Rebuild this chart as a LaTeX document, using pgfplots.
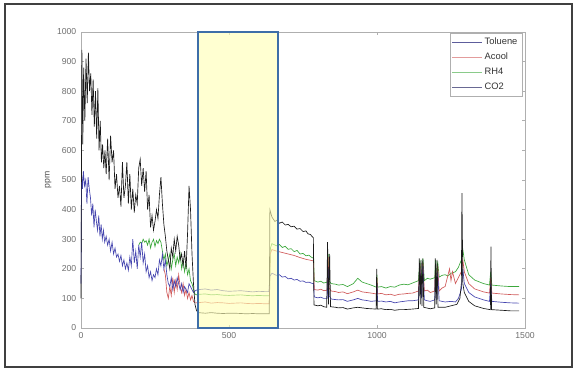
\documentclass[border=0pt]{standalone}
\usepackage{pgfplots}
\pgfplotsset{compat=1.18}
\usepackage{fontspec}
\setmainfont{Liberation Sans}
\definecolor{cblue}{RGB}{70,70,175}
\definecolor{cred}{RGB}{208,90,90}
\definecolor{cgreen}{RGB}{60,168,60}
\definecolor{cblack}{RGB}{26,26,26}
\definecolor{ryellow}{RGB}{255,255,180}
\definecolor{rblue}{RGB}{62,110,168}
\definecolor{axgray}{RGB}{175,175,175}
\definecolor{txgray}{RGB}{110,110,110}
\begin{document}
\begin{tikzpicture}
\useasboundingbox (0,0) rectangle (430.5pt,276.75pt);
\draw[color=black!75, line width=0.8pt] (3.75pt,1.5pt) rectangle (429pt,273.75pt);
\begin{axis}[
  at={(60.75pt,30.75pt)}, anchor=south west,
  scale only axis, width=333pt, height=222pt,
  xmin=0, xmax=1500, ymin=0, ymax=1000,
  xtick={0,500,1000,1500}, ytick={0,100,...,1000},
  tick align=inside, tick pos=both, major tick length=2.5pt,
  axis line style={axgray, line width=0.6pt},
  tick style={axgray, line width=0.5pt},
  ticklabel style={font=\fontsize{6.5}{7}\selectfont, text=txgray},
  /pgf/number format/assume math mode=true,
  /pgf/number format/1000 sep={},
  ylabel={ppm},
  ylabel style={at={(axis description cs:-0.074,0.5)}, anchor=center, font=\fontsize{6.5}{7}\selectfont, text=black!70},
  clip=false,
  legend style={at={(0.994,0.997)}, anchor=north east, draw=axgray, font=\fontsize{7}{7.5}\selectfont, row sep=0.8pt, inner sep=1.5pt, text=black!80},
  legend cell align=left,
  legend image code/.code={\draw[#1] (0pt,0pt) -- (22pt,0pt);},
]
% RH4 (green)
\addplot[cgreen, line width=0.5pt, forget plot] coordinates {
(195,280)(200,290)(205,285)(210,300)(215,290)(220,295)(225,280)(230,300)(235,270)(240,290)(245,300)(250,275)(255,295)(260,285)(265,300)(270,290)(275,260)(280,230)(285,250)(290,210)(295,230)(300,250)(305,200)(310,230)(315,250)(320,210)(325,240)(330,220)(335,250)(340,200)(345,230)(350,190)(355,220)(360,180)(365,200)(370,160)(375,150)(380,130)(385,115)(390,112)
(400,114)(420,115)(440,112)(460,113)(480,111)(500,110)(520,111)(540,112)(560,110)(580,109)(600,110)(620,109)(637,109)(640,270)(645,285)(660,278)(670,282)(680,272)(690,276)(700,266)(710,268)(720,258)(730,262)(740,250)(750,252)(760,244)(770,246)(780,238)(786,236)(788,160)(800,155)(810,158)(820,152)(832,155)(835,250)(838,160)(845,150)(860,148)(870,145)(885,147)(900,140)(920,150)(935,168)(950,155)(965,150)(980,145)(998,138)(1000,180)(1002,138)(1015,140)(1030,135)(1045,140)(1060,138)(1075,145)(1090,148)(1105,146)(1120,152)(1140,160)(1145,230)(1150,165)(1155,235)(1160,160)(1170,168)(1180,165)(1195,170)(1198,230)(1202,170)(1205,225)(1210,172)(1220,178)(1230,180)(1240,176)(1250,185)(1265,190)(1275,205)(1285,230)(1290,265)(1295,230)(1310,180)(1330,162)(1360,150)(1380,145)(1384,190)(1388,145)(1420,142)(1450,140)(1480,140)
};
% Acool (red)
\addplot[cred, line width=0.5pt, forget plot] coordinates {
(280,200)(285,180)(290,120)(295,100)(300,140)(305,110)(310,170)(315,120)(320,160)(325,130)(330,180)(335,140)(340,120)(345,150)(350,110)(355,130)(360,100)(365,120)(370,95)(375,110)(380,90)(385,85)(390,85)
(400,86)(420,88)(440,84)(460,86)(480,85)(500,83)(520,84)(540,85)(560,83)(580,82)(600,83)(620,82)(636,82)(639,250)(645,265)(660,260)(680,255)(700,250)(720,245)(740,238)(760,232)(780,228)(786,226)(788,130)(800,128)(810,131)(820,126)(832,128)(835,240)(838,135)(845,125)(860,123)(870,120)(885,122)(900,116)(920,122)(935,128)(950,122)(965,120)(980,118)(998,115)(1000,170)(1002,115)(1015,117)(1030,112)(1045,114)(1060,110)(1075,114)(1090,115)(1105,117)(1120,118)(1140,125)(1145,215)(1150,130)(1155,220)(1160,125)(1170,128)(1180,120)(1195,125)(1198,215)(1202,125)(1205,210)(1210,125)(1220,135)(1230,140)(1245,200)(1250,160)(1255,190)(1265,150)(1275,170)(1285,190)(1290,230)(1295,190)(1310,150)(1330,132)(1360,122)(1380,118)(1384,170)(1388,118)(1420,115)(1450,113)(1480,112)
};
% Toluene (blue)
\addplot[cblue, line width=0.5pt, forget plot] coordinates {
(0,150)(2,520)(5,470)(8,530)(12,480)(16,500)(20,420)(24,510)(28,470)(32,440)(36,380)(40,420)(44,340)(48,400)(52,360)(56,330)(60,380)(64,310)(68,350)(72,300)(76,330)(80,290)(85,310)(90,280)(95,300)(100,260)(105,290)(110,250)(115,270)(120,240)(125,250)(130,225)(135,245)(140,210)(145,230)(150,200)(155,220)(160,195)(165,240)(170,210)(175,300)(180,220)(185,260)(190,200)(195,280)(200,240)(205,290)(210,220)(215,250)(220,190)(225,210)(230,170)(235,190)(240,160)(245,180)(250,170)(255,200)(260,180)(265,230)(270,210)(275,250)(280,200)(285,230)(290,180)(295,150)(300,140)(305,170)(310,130)(315,160)(320,140)(325,170)(330,150)(335,130)(340,150)(345,120)(350,140)(355,130)(360,120)(365,150)(370,140)(375,130)(380,120)(385,125)(390,128)
(400,130)(420,132)(440,128)(460,130)(480,126)(500,124)(520,125)(540,126)(560,124)(580,122)(600,124)(620,123)(635,123)(638,175)(645,185)(660,178)(670,180)(680,172)(690,174)(700,166)(710,168)(720,162)(730,164)(740,158)(750,159)(760,154)(770,155)(780,151)(786,150)(788,105)(800,102)(810,104)(820,100)(832,100)(835,200)(838,110)(845,98)(860,96)(870,95)(885,96)(900,90)(920,95)(935,100)(950,95)(965,93)(980,90)(998,92)(1000,150)(1002,90)(1015,91)(1030,88)(1045,90)(1060,85)(1075,88)(1090,90)(1105,92)(1120,92)(1140,95)(1145,200)(1150,100)(1155,210)(1160,95)(1170,92)(1180,90)(1195,95)(1198,200)(1202,95)(1205,190)(1210,92)(1230,88)(1250,90)(1265,88)(1275,100)(1285,130)(1290,200)(1295,150)(1310,120)(1330,105)(1360,95)(1380,90)(1384,150)(1388,90)(1420,87)(1450,85)(1480,84)
};
% CO2 (black)
\addplot[cblack, line width=0.5pt, forget plot] coordinates {
(0,100)(3,940)(6,620)(9,880)(13,700)(17,910)(21,760)(25,930)(29,800)(33,860)(37,720)(41,840)(45,680)(49,800)(53,640)(57,810)(61,600)(65,700)(69,560)(73,620)(77,540)(81,600)(85,520)(90,640)(95,500)(100,650)(105,560)(110,600)(115,470)(120,520)(125,440)(130,480)(135,410)(140,560)(145,440)(150,480)(155,560)(160,420)(165,520)(170,400)(175,470)(180,390)(185,450)(190,420)(195,540)(200,570)(205,480)(210,540)(215,460)(220,530)(225,400)(230,450)(235,340)(240,380)(245,330)(250,360)(255,400)(260,370)(265,450)(270,510)(275,420)(280,350)(285,310)(290,260)(295,230)(300,200)(305,270)(310,240)(315,300)(320,260)(325,310)(330,280)(335,230)(340,250)(345,210)(350,260)(355,200)(360,320)(365,480)(370,400)(375,250)(380,150)(385,80)(390,60)(395,52)
(420,50)(440,52)(460,50)(480,49)(500,50)(520,50)(540,49)(560,48)(580,49)(600,48)(620,48)(636,48)(638,400)(645,375)(655,360)(662,364)(670,354)(680,358)(690,348)(700,350)(710,342)(720,344)(730,334)(740,336)(750,326)(760,328)(767,318)(775,316)(780,310)(785,305)(787,78)(800,75)(810,77)(820,72)(830,70)(833,290)(836,80)(840,250)(843,72)(860,70)(870,68)(885,69)(900,64)(920,68)(935,70)(950,68)(965,66)(980,65)(997,64)(999,200)(1001,64)(1015,65)(1030,62)(1045,63)(1060,60)(1075,62)(1090,62)(1105,63)(1120,64)(1140,66)(1143,235)(1146,80)(1149,230)(1152,75)(1155,235)(1158,70)(1180,65)(1195,68)(1197,235)(1200,80)(1203,230)(1206,70)(1230,70)(1250,75)(1270,80)(1280,100)(1285,150)(1287,456)(1290,150)(1295,120)(1310,90)(1330,75)(1360,66)(1383,62)(1385,275)(1387,62)(1420,60)(1450,58)(1480,58)
};
\draw[fill=ryellow, fill opacity=0.62, draw=rblue, line width=1.8pt] (axis cs:395,0) rectangle (axis cs:666,1000);
\addlegendimage{cblue!60!gray, line width=0.5pt}
\addlegendentry{Toluene}
\addlegendimage{cred!60!white, line width=0.5pt}
\addlegendentry{Acool}
\addlegendimage{cgreen!60!white, line width=0.5pt}
\addlegendentry{RH4}
\addlegendimage{cblue!40!gray, line width=0.5pt}
\addlegendentry{CO2}
\end{axis}
\end{tikzpicture}
\end{document}
